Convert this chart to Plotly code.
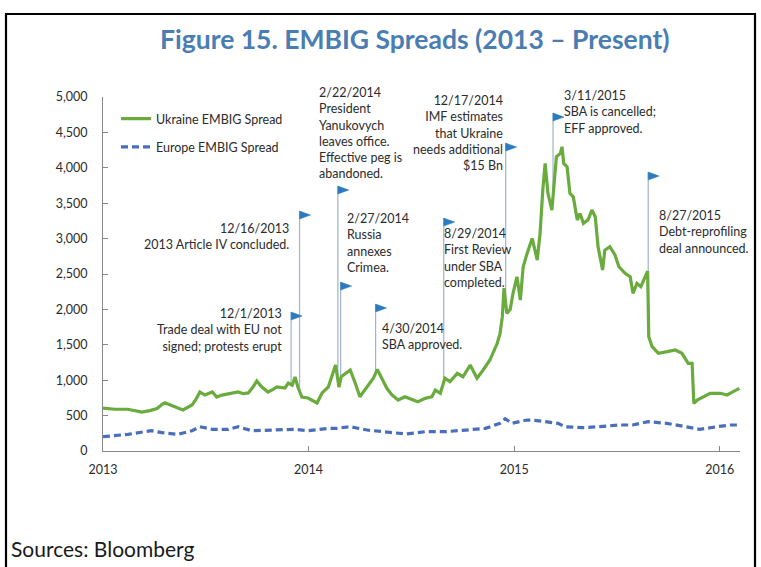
import numpy as np
import pandas as pd
import plotly.graph_objects as go

# ---------------------------------------------------------------- data
ukr_dates = [
    "2013-01-01", "2013-01-22", "2013-02-14", "2013-02-27", "2013-03-11", "2013-03-25",
    "2013-04-07", "2013-04-16", "2013-04-21", "2013-05-04", "2013-05-14", "2013-05-23",
    "2013-06-08", "2013-06-15", "2013-06-22", "2013-07-01", "2013-07-14", "2013-07-22",
    "2013-07-31", "2013-08-11", "2013-08-20", "2013-08-29", "2013-09-07", "2013-09-16",
    "2013-09-24", "2013-10-01", "2013-10-10", "2013-10-21", "2013-10-30", "2013-11-06",
    "2013-11-20", "2013-11-26", "2013-12-03", "2013-12-08", "2013-12-13", "2013-12-20",
    "2013-12-31", "2014-01-07", "2014-01-16", "2014-01-25", "2014-02-05", "2014-02-18",
    "2014-02-24", "2014-02-28", "2014-03-07", "2014-03-16", "2014-03-25", "2014-04-02",
    "2014-04-15", "2014-04-26", "2014-05-03", "2014-05-11", "2014-05-20", "2014-05-29",
    "2014-06-09", "2014-06-21", "2014-07-04", "2014-07-14", "2014-07-27", "2014-08-08",
    "2014-08-14", "2014-08-23", "2014-08-31", "2014-09-09", "2014-09-22", "2014-10-02",
    "2014-10-15", "2014-10-27", "2014-11-07", "2014-11-19", "2014-12-02", "2014-12-07",
    "2014-12-11", "2014-12-14", "2014-12-19", "2014-12-25", "2014-12-30", "2015-01-06",
    "2015-01-12", "2015-01-17", "2015-01-24", "2015-02-02", "2015-02-11", "2015-02-16",
    "2015-02-21", "2015-02-25", "2015-03-02", "2015-03-09", "2015-03-17", "2015-03-24",
    "2015-03-27", "2015-03-30", "2015-04-05", "2015-04-10", "2015-04-16", "2015-04-23",
    "2015-04-28", "2015-05-04", "2015-05-12", "2015-05-19", "2015-05-25", "2015-05-30",
    "2015-06-07", "2015-06-11", "2015-06-20", "2015-06-29", "2015-07-06", "2015-07-17",
    "2015-07-26", "2015-07-31", "2015-08-07", "2015-08-14", "2015-08-26", "2015-08-28",
    "2015-09-03", "2015-09-14", "2015-09-30", "2015-10-14", "2015-10-26", "2015-11-06",
    "2015-11-13", "2015-11-16", "2015-11-22", "2015-12-03", "2015-12-15", "2016-01-02",
    "2016-01-14", "2016-01-25", "2016-02-05",
]
ukr_values = [
    607, 590, 590, 575, 550, 570,
    600, 660, 680, 640, 607, 580,
    650, 730, 833, 790, 833, 762,
    790, 805, 820, 833, 810, 820,
    900, 988, 904, 833, 870, 904,
    890, 960, 930, 1045, 904, 762,
    748, 720, 678, 820, 904, 1214,
    900, 1049, 1097, 1144, 956, 767,
    908, 1027, 1153, 1027, 885, 791,
    720, 767, 720, 696, 744, 767,
    861, 815, 1027, 979, 1097, 1049,
    1214, 1027, 1144, 1285, 1521, 1662,
    1897, 2300, 1944, 2000, 2227, 2461,
    2132, 2600, 2791, 3003, 2697, 3074,
    3700, 4062, 3639, 3403, 4156, 4203,
    4297, 4062, 4015, 3639, 3591, 3262,
    3356, 3215, 3262, 3403, 3309, 2885,
    2556, 2838, 2885, 2768, 2602, 2509,
    2461, 2227, 2368, 2320, 2540, 1614,
    1473, 1380, 1403, 1426, 1380, 1238,
    1238, 673, 720, 767, 815, 815,
    791, 838, 885,
]

eur_dates = [
    "2013-01-01", "2013-02-14", "2013-03-28", "2013-04-16", "2013-05-14", "2013-06-08",
    "2013-06-22", "2013-07-14", "2013-08-11", "2013-08-29", "2013-09-22", "2013-10-21",
    "2013-12-08", "2013-12-31", "2014-02-05", "2014-02-20", "2014-03-16", "2014-04-15",
    "2014-05-20", "2014-06-23", "2014-07-27", "2014-09-01", "2014-10-07", "2014-11-11",
    "2014-12-07", "2014-12-16", "2014-12-28", "2015-01-24", "2015-02-10", "2015-02-25",
    "2015-03-20", "2015-04-01", "2015-05-01", "2015-06-01", "2015-07-06", "2015-07-30",
    "2015-08-27", "2015-09-29", "2015-11-04", "2015-11-27", "2015-12-27", "2016-01-20",
    "2016-02-05",
]
eur_values = [
    202, 235, 287, 259, 235, 287,
    343, 306, 306, 343, 287, 296,
    306, 287, 320, 320, 343, 296,
    273, 240, 273, 273, 296, 320,
    391, 455, 391, 438, 430, 414,
    391, 343, 329, 343, 367, 367,
    414, 391, 343, 306, 343, 367,
    367,
]

event_dates = [
    "2013-12-01", "2013-12-16", "2014-02-22", "2014-02-27", "2014-04-30",
    "2014-08-29", "2014-12-17", "2015-03-11", "2015-08-27",
]
event_texts = [
    "12/1/2013<br>Trade deal with EU not<br>signed; protests erupt",
    "12/16/2013<br>2013 Article IV concluded.",
    "2/22/2014<br>President<br>Yanukovych<br>leaves office.<br>Effective peg is<br>abandoned.",
    "2/27/2014<br>Russia<br>annexes<br>Crimea.",
    "4/30/2014<br>SBA approved.",
    "8/29/2014<br>First Review<br>under SBA<br>completed.",
    "12/17/2014<br>IMF estimates<br>that Ukraine<br>needs additional<br>$15 Bn",
    "3/11/2015<br>SBA is cancelled;<br>EFF approved.",
    "8/27/2015<br>Debt-reprofiling<br>deal announced.",
]
year_ticks = ["2013-01-01", "2014-01-01", "2015-01-01", "2016-01-01"]
year_labels = ["2013", "2014", "2015", "2016"]

# ---------------------------------------------------------------- layout of the event markers
# flag top (in spread units), label anchor (date, spread level of top edge), alignment
flag_tops = [1963, 3389, 3742, 2386, 2076, 3290, 4349, 4773, 3940]
label_anchor = [
    ("2013-11-19", 2080, "right"),
    ("2013-11-30", 3280, "right"),
    ("2014-01-16", 5200, "left"),
    ("2014-03-07", 3420, "left"),
    ("2014-05-08", 1870, "left"),
    ("2014-08-26", 3210, "left"),
    ("2014-12-15", 5080, "right"),
    ("2015-03-27", 5150, "left"),
    ("2015-09-12", 3460, "left"),
]

# ---------------------------------------------------------------- geometry
W, H = 761, 567
L, R, T, B = 103, 740, 97, 451
Y_MAX = 5000


def fx(px):
    return (px - L) / (R - L)


def fy(py):
    return (B - py) / (B - T)


FONT = "Lato, 'Open Sans', sans-serif"
GREEN = "#6aab3e"
BLUE = "#4a6fba"
FLAG = "#2c7bc0"
POLE = "#9db3cf"
TEXT = "#2b2b2b"

fig = go.Figure()

fig.add_trace(go.Scatter(
    x=pd.to_datetime(ukr_dates), y=ukr_values, mode="lines",
    name="Ukraine EMBIG Spread", legendgroup="u",
    line=dict(color=GREEN, width=3.2),
))
fig.add_trace(go.Scatter(
    x=pd.to_datetime(eur_dates), y=eur_values, mode="lines",
    name="Europe EMBIG Spread", legendgroup="e",
    line=dict(color=BLUE, width=3.2, dash="7px,4px"),
))

# flag poles rise from the Ukraine line up to each flag
ukr_t = pd.to_datetime(ukr_dates).astype("int64").to_numpy()
shapes = []
for d, top in zip(event_dates, flag_tops):
    base = float(np.interp(pd.Timestamp(d).value, ukr_t, ukr_values))
    shapes.append(dict(type="line", xref="x", yref="y", x0=d, x1=d, y0=base, y1=top,
                       line=dict(color=POLE, width=1.2), layer="below"))
    shapes.append(dict(type="path", xref="x", yref="y",
                       xsizemode="pixel", ysizemode="pixel", xanchor=d, yanchor=top,
                       path="M 0 0 L 11 -4 L 0 -8 Z",
                       fillcolor=FLAG, line=dict(color=FLAG, width=0.5)))

# outer frame
shapes.append(dict(type="rect", xref="paper", yref="paper",
                   x0=fx(6), x1=fx(755), y0=fy(590), y1=fy(14),
                   line=dict(color="black", width=2.2)))

annotations = []
for text, (ax, ay, al) in zip(event_texts, label_anchor):
    # vertical placement in paper units so labels above the axis top stay visible
    annotations.append(dict(
        x=ax, y=ay / Y_MAX, xref="x", yref="paper", text=text, showarrow=False,
        xanchor=al, yanchor="top", align=al,
        font=dict(family=FONT, size=12.5, color=TEXT),
    ))

annotations.append(dict(
    x=fx(415), y=fy(39), xref="paper", yref="paper",
    text="<b>Figure 15. EMBIG Spreads (2013 – Present)</b>", showarrow=False,
    xanchor="center", yanchor="middle",
    font=dict(family=FONT, size=26.5, color="#4a7db3"),
))
annotations.append(dict(
    x=fx(9), y=fy(548), xref="paper", yref="paper",
    text="Sources: Bloomberg", showarrow=False,
    xanchor="left", yanchor="middle",
    font=dict(family=FONT, size=21, color="#1a1a1a"),
))

fig.update_layout(
    width=W, height=H,
    margin=dict(l=L, r=W - R, t=T, b=H - B, pad=0),
    paper_bgcolor="white", plot_bgcolor="white",
    showlegend=True,
    legend=dict(
        x=fx(116), y=fy(104), xanchor="left", yanchor="top",
        bgcolor="rgba(0,0,0,0)", traceorder="grouped", tracegroupgap=9,
        font=dict(family=FONT, size=12.5, color=TEXT), itemwidth=30,
    ),
    shapes=shapes,
    annotations=annotations,
    xaxis=dict(
        range=["2013-01-01", "2016-02-06"],
        tickvals=year_ticks, ticktext=year_labels,
        ticks="inside", ticklen=5, tickcolor="#888888",
        showline=True, linecolor="#888888", linewidth=1,
        showgrid=False, zeroline=False,
        tickfont=dict(family=FONT, size=12.5, color=TEXT),
        ticklabelstandoff=7,
    ),
    yaxis=dict(
        range=[0, Y_MAX], tickvals=list(range(0, Y_MAX + 1, 500)), tickformat=",d",
        ticks="inside", ticklen=5, tickcolor="#888888",
        showline=True, linecolor="#888888", linewidth=1,
        showgrid=False, zeroline=False,
        tickfont=dict(family=FONT, size=12.5, color=TEXT),
        ticklabelstandoff=12,
    ),
)

fig.write_html("out.html")
